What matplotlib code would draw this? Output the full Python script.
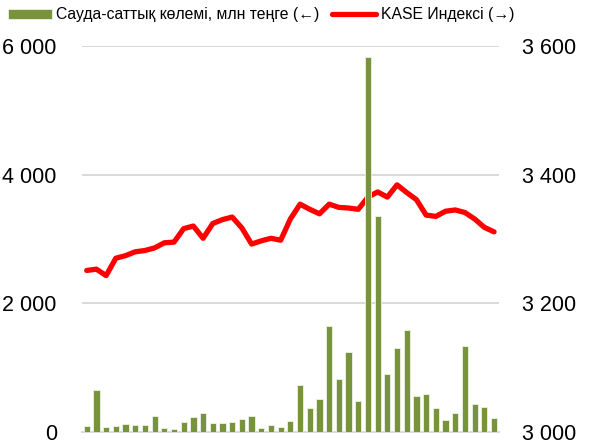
import numpy as np
import matplotlib
matplotlib.use("Agg")
import matplotlib.pyplot as plt
from matplotlib.ticker import FuncFormatter

GREEN = "#77933C"
RED = "#FF0000"
GRID = "#D9D9D9"

plt.rcParams["font.family"] = ["Liberation Sans", "DejaVu Sans"]

# Сауда-саттық көлемі, млн теңге (сол жақ ось)
volume = [90, 660, 85, 100, 125, 110, 105, 255, 58, 42,
          156, 234, 297, 146, 146, 156, 208, 245, 58, 105,
          85, 177, 724, 375, 516, 1651, 828, 1245, 484, 5820,
          3360, 906, 1312, 1583, 552, 583, 375, 193, 302, 1344,
          438, 391, 219]

# KASE Индексі (оң жақ ось)
kase = [3251, 3253, 3243, 3270, 3274, 3280, 3282, 3286, 3294, 3295,
        3316, 3320, 3301, 3324, 3330, 3334, 3317, 3292, 3297, 3301,
        3298, 3331, 3354, 3346, 3339, 3354, 3349, 3348, 3346, 3365,
        3373, 3365, 3384, 3372, 3361, 3337, 3335, 3343, 3345, 3341,
        3331, 3318, 3311]

left_ticks = [0, 2000, 4000, 6000]
right_ticks = [3000, 3200, 3400, 3600]


def space_thousands(v, pos=None):
    return f"{int(round(v)):,}".replace(",", " ")


fig = plt.figure(figsize=(5.89, 4.48), dpi=100)
ax = fig.add_axes([0.139, 0.0357, 0.708, 0.862])
ax2 = ax.twinx()

x = np.arange(len(volume))

ax2.plot(x, kase, color=RED, lw=3.8, solid_capstyle="round",
         solid_joinstyle="round", label="KASE Индексі (→)")
ax.bar(x, volume, width=0.64, color=GREEN, edgecolor="#EEF2E4",
       linewidth=0.6, label="Сауда-саттық көлемі, млн теңге (←)", zorder=3)

# bars are drawn above the line
ax.set_zorder(ax2.get_zorder() + 1)
ax.patch.set_visible(False)

ax.set_xlim(-0.5, len(volume) - 0.5)
ax.set_ylim(0, 6000)
ax2.set_ylim(3000, 3600)
ax.set_yticks(left_ticks)
ax2.set_yticks(right_ticks)
ax.yaxis.set_major_formatter(FuncFormatter(space_thousands))
ax2.yaxis.set_major_formatter(FuncFormatter(space_thousands))
ax.set_xticks([])

ax.grid(axis="y", color=GRID, lw=1.4, zorder=0)
ax.set_axisbelow(True)

for a in (ax, ax2):
    for side in ("top", "left", "right"):
        a.spines[side].set_visible(False)
    a.spines["bottom"].set_color(GRID)
    a.spines["bottom"].set_linewidth(1.4)
    a.tick_params(axis="y", length=0, labelsize=15.5, pad=18)
ax2.tick_params(axis="y", pad=17)

h1, l1 = ax.get_legend_handles_labels()
h2, l2 = ax2.get_legend_handles_labels()
fig.legend(h1 + h2, l1 + l2, loc="upper left", bbox_to_anchor=(-0.008, 1.012),
           ncol=2, frameon=False, fontsize=11.3, handlelength=2.8,
           handleheight=0.6, handletextpad=0.3, columnspacing=0.8,
           borderpad=0.3)

fig.savefig("out.png", dpi=100)
